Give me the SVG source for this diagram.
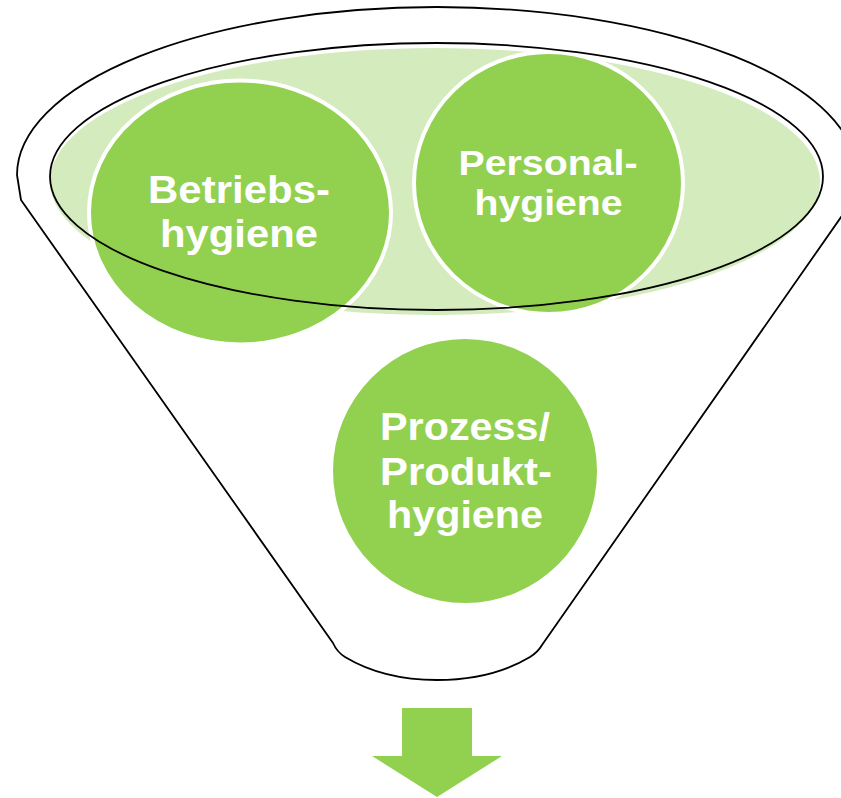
<svg xmlns="http://www.w3.org/2000/svg" width="841" height="798" viewBox="0 0 841 798">
  <style>
    .line { fill: none; stroke: #000; stroke-width: 1.8; stroke-linejoin: round; }
    .node { fill: #92D050; }
    .ring { stroke: #fff; stroke-width: 4; }
    .lbl { font-family: "Liberation Sans", Arial, sans-serif; font-weight: bold; fill: #fff; text-anchor: middle; }
  </style>
  <rect width="841" height="798" fill="#fff"/>
  <g id="funnel">
    <path class="line" d="M 21 200 L 17 175 A 420 168 0 0 1 857 175 L 853 200 L 542 645 Q 538 652 530 657 C 500 675 464 680 437 680 C 410 680 375 675 345 657 Q 337 652 333 643 Z"/>
  </g>
  <g id="rim-fill">
    <ellipse cx="435" cy="181.5" rx="385" ry="133.5" fill="#D4EBBD"/>
  </g>
  <g id="betriebshygiene">
    <ellipse class="node ring" cx="240" cy="212.5" rx="151" ry="132"/>
    <text class="lbl" font-size="38"><tspan x="239" y="203" textLength="182" lengthAdjust="spacingAndGlyphs">Betriebs-</tspan><tspan x="239" y="247" textLength="158" lengthAdjust="spacingAndGlyphs">hygiene</tspan></text>
  </g>
  <g id="personalhygiene">
    <ellipse class="node ring" cx="548.5" cy="183" rx="134.5" ry="131"/>
    <text class="lbl" font-size="35.5"><tspan x="548" y="175" textLength="179" lengthAdjust="spacingAndGlyphs">Personal-</tspan><tspan x="548.5" y="215" textLength="148" lengthAdjust="spacingAndGlyphs">hygiene</tspan></text>
  </g>
  <g id="rim-outline">
    <ellipse class="line" cx="436.5" cy="176.5" rx="386.5" ry="133.5"/>
  </g>
  <g id="prozesshygiene">
    <circle class="node" cx="465" cy="471" r="132"/>
    <text class="lbl" font-size="39.5"><tspan x="465" y="440" textLength="170" lengthAdjust="spacingAndGlyphs">Prozess/</tspan><tspan x="466" y="485" textLength="172" lengthAdjust="spacingAndGlyphs">Produkt-</tspan><tspan x="465" y="528" textLength="156" lengthAdjust="spacingAndGlyphs">hygiene</tspan></text>
  </g>
  <g id="connectors">
    <polygon class="node" points="402,708 472,708 472,756 502,756 437,797 372,756 402,756"/>
  </g>
</svg>
